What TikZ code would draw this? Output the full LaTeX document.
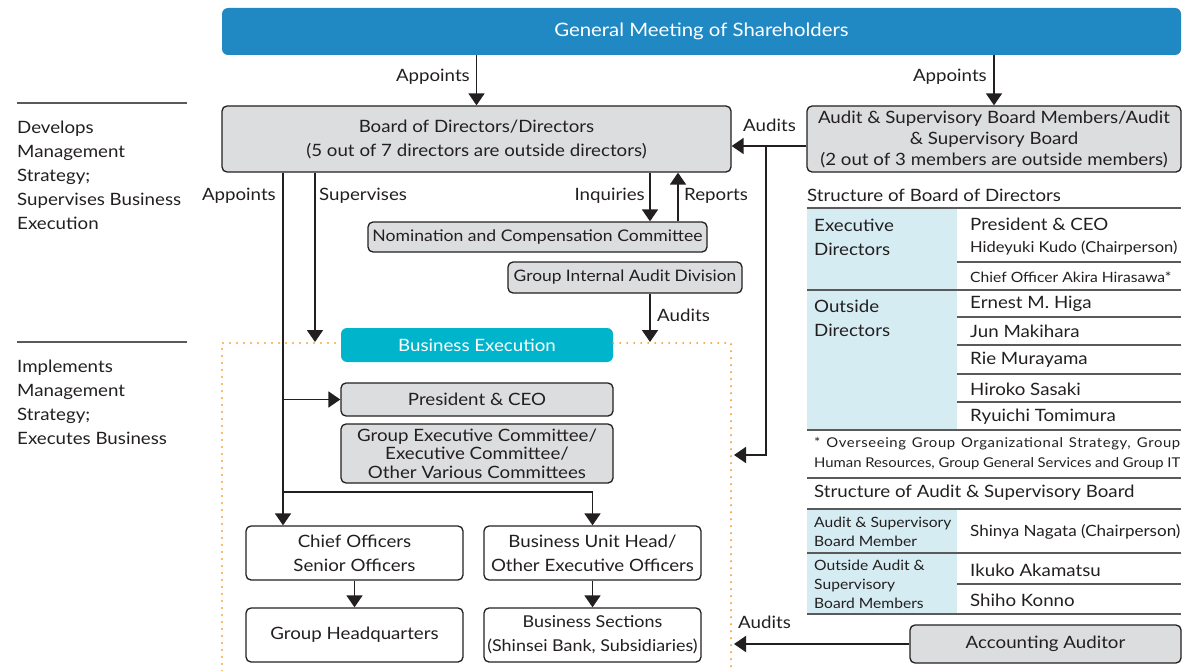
\documentclass[tikz,border=0pt]{standalone}
\usepackage{fontspec}
\setmainfont{Lato}[FakeStretch=1.1]
\usetikzlibrary{arrows.meta,positioning,calc}

\definecolor{gmblue}{RGB}{32,137,195}
\definecolor{execcyan}{RGB}{0,181,203}
\definecolor{boxgray}{RGB}{220,221,223}
\definecolor{tblblue}{RGB}{213,236,243}
\definecolor{dotorange}{RGB}{247,165,64}
\definecolor{ink}{RGB}{35,31,32}
\definecolor{rule}{RGB}{90,90,90}

\begin{document}
\begin{tikzpicture}[
    x=1pt, y=-1pt,
    every node/.style={text=ink, inner sep=0pt},
    mainfont/.style={font=\fontsize{17}{24}\selectfont},
    smallfont/.style={font=\fontsize{16}{19}\selectfont},
    box/.style={rectangle, draw=ink, line width=1.3pt, rounded corners=5pt, fill=boxgray, align=center, mainfont},
    whitebox/.style={box, fill=white, minimum width=217pt, minimum height=54pt},
    headbox/.style={rectangle, rounded corners=6pt, align=center, text=white, mainfont},
    label/.style={mainfont},
    cell/.style={mainfont, anchor=west},
    narrowcell/.style={font=\fontsize{15}{24}\selectfont, anchor=west},
    smallcell/.style={font=\fontsize{14.2}{19}\selectfont, anchor=west, align=left},
    tline/.style={draw=rule, line width=1.2pt},
    line/.style={draw=ink, line width=1.8pt},
    arrow/.style={line, -{Triangle[length=12pt, width=16pt]}},
    dotted frame/.style={draw=dotorange, line width=2.4pt, line cap=round, dash pattern=on 0pt off 7pt}
]
\useasboundingbox (0,0) rectangle (1182,671);

% Top
\node[headbox, fill=gmblue, font=\fontsize{18.5}{24}\selectfont, minimum width=959pt, minimum height=47pt] (gm) at (701.5,31.5) {General Meeting of Shareholders};

% Board and auditors
\node[box, minimum width=509pt, minimum height=66pt] (board) at (476.5,139) {Board of Directors/Directors\\(5 out of 7 directors are outside directors)};
\node[box, font=\fontsize{17}{21}\selectfont, minimum width=374pt, minimum height=66pt] (asb) at (994,139) {Audit \& Supervisory Board Members/Audit\\\& Supervisory Board\\(2 out of 3 members are outside members)};

% Committees
\node[box, smallfont, minimum width=339pt, minimum height=30pt] (nomc) at (537.5,237) {Nomination and Compensation Committee};
\node[box, font=\fontsize{15.8}{19}\selectfont, minimum width=234pt, minimum height=31pt] (giad) at (625,277.5) {Group Internal Audit Division};

% Business execution
\node[headbox, fill=execcyan, minimum width=272pt, minimum height=34pt] (busexec) at (477,345) {Business Execution};
\node[box, minimum width=272pt, minimum height=33pt] (pres) at (477,399.5) {President \& CEO};
\node[box, font=\fontsize{17}{18.5}\selectfont, minimum width=272pt, minimum height=59pt] (gec) at (477,453.5) {Group Executive Committee/\\Executive Committee/\\Other Various Committees};
\node[whitebox] (chief) at (354.5,553) {Chief Officers\\Senior Officers};
\node[whitebox] (buhead) at (592.5,553) {Business Unit Head/\\Other Executive Officers};
\node[whitebox] (ghq) at (354.5,635) {Group Headquarters};
\node[whitebox, font=\fontsize{16.3}{24}\selectfont] (bsec) at (592.5,635) {Business Sections\\(Shinsei Bank, Subsidiaries)};

% Accounting auditor
\node[box, minimum width=271pt, minimum height=38pt] (accaud) at (1045.5,644) {Accounting Auditor};

% Dotted frame
\coordinate (frametl) at (222,343);
\coordinate (frametr) at (731,343);
\draw[dotted frame] (222,671) -- (frametl) -- (busexec.west |- frametl);
\draw[dotted frame] (busexec.east |- frametr) -- (frametr) -- (731,671);

% Left descriptions
\draw[tline] (17,103) -- (187,103);
\node[label, align=left, anchor=north west] (develops) at (17,121) {Develops\\Management\\Strategy;\\Supervises Business\\Execution};
\draw[tline] (17,342) -- (187,342);
\node[label, align=left, anchor=north west] (implements) at (17,360) {Implements\\Management\\Strategy;\\Executes Business};

% Connector points
\coordinate (split) at (283,492);
\coordinate (sup) at (315,342);
\coordinate (inq) at (650,342);
\coordinate (rep) at (678,0);
\coordinate (ajoin) at (766,146);
\coordinate (aexec) at (734,455);
\coordinate (aacc) at (734,644);

% Arrows
\draw[arrow] (gm.south -| board.north) -- (board.north);
\draw[arrow] (gm.south -| asb.north) -- (asb.north);
\draw[arrow] (asb.west |- ajoin) -- (board.east |- ajoin);
\draw[arrow] (ajoin) |- (aexec);
\draw[line] (board.south -| split) -- (split);
\draw[arrow] (split) -- (chief.north -| split);
\draw[arrow] (split) -| (buhead.north);
\draw[arrow] (pres.west -| split) -- (pres.west);
\draw[arrow] (board.south -| sup) -- (sup);
\draw[arrow] (board.south -| inq) -- (nomc.north -| inq);
\draw[arrow] (nomc.north -| rep) -- (board.south -| rep);
\draw[arrow] (giad.south -| inq) -- (inq);
\draw[arrow] (chief.south) -- (ghq.north);
\draw[arrow] (buhead.south) -- (bsec.north);
\draw[arrow] (accaud.west) -- (aacc);

% Arrow labels
\node[label, anchor=east] (lapp1) at (470,77) {Appoints};
\node[label, anchor=east] (lapp2) at (987,77) {Appoints};
\node[label, anchor=west] (laud1) at (743,125) {Audits};
\node[label, anchor=east] (lapp3) at (276,196) {Appoints};
\node[label, anchor=west] (lsup) at (319,196) {Supervises};
\node[label, anchor=east] (linq) at (645,196) {Inquiries};
\node[label, anchor=west] (lrep) at (684,196) {Reports};
\node[label, anchor=west] (laud2) at (657,315) {Audits};
\node[label, anchor=west] (laud3) at (738,622) {Audits};

% Structure of Board of Directors
\node[cell, anchor=west] (bodtitle) at (807,195) {Structure of Board of Directors};
\fill[tblblue] (807,208) rectangle (957,430);
\draw[tline] (807,208) -- (1181,208);
\draw[tline] (957,262) -- (1181,262);
\draw[tline] (807,290) -- (1181,290);
\draw[tline] (957,317) -- (1181,317);
\draw[tline] (957,345) -- (1181,345);
\draw[tline] (957,374) -- (1181,374);
\draw[tline] (957,402) -- (1181,402);
\draw[tline] (807,430) -- (1181,430);
\node[cell, align=left] (execdir) at (814,237) {Executive\\Directors};
\node[cell, align=left] (outdir) at (814,318) {Outside\\Directors};
\node[cell] (bod1) at (970,224) {President \& CEO};
\node[narrowcell] (bod2) at (970,248) {Hideyuki Kudo (Chairperson)};
\node[smallcell] (bod3) at (970,277) {Chief Officer Akira Hirasawa*};
\node[cell] (bod4) at (970,304) {Ernest M. Higa};
\node[cell] (bod5) at (970,331) {Jun Makihara};
\node[cell] (bod6) at (970,360) {Rie Murayama};
\node[cell] (bod7) at (970,389) {Hiroko Sasaki};
\node[cell] (bod8) at (970,417) {Ryuichi Tomimura};
\node[font=\fontsize{13.5}{20}\selectfont, align=left, anchor=north west] (note) at (814,437) {\makebox[366pt][s]{\addfontfeatures{LetterSpace=4.5}* Overseeing Group Organizational Strategy, Group}\\\makebox[366pt][s]{Human Resources, Group General Services and Group IT}};
\draw[tline] (807,478) -- (1181,478);

% Structure of Audit & Supervisory Board
\node[cell] (asbtitle) at (814,493) {Structure of Audit \& Supervisory Board};
\fill[tblblue] (807,509) rectangle (957,614);
\draw[tline] (807,509) -- (1181,509);
\draw[tline] (807,553) -- (1181,553);
\draw[tline] (957,584) -- (1181,584);
\draw[tline] (807,614) -- (1181,614);
\node[smallcell] (asbm) at (814,532) {Audit \& Supervisory\\Board Member};
\node[smallcell] (oasbm) at (814,584) {Outside Audit \&\\Supervisory\\Board Members};
\node[narrowcell, font=\fontsize{15.5}{24}\selectfont] (asb1) at (970,532) {Shinya Nagata (Chairperson)};
\node[cell] (asb2) at (970,570) {Ikuko Akamatsu};
\node[cell] (asb3) at (970,600) {Shiho Konno};

\end{tikzpicture}
\end{document}
